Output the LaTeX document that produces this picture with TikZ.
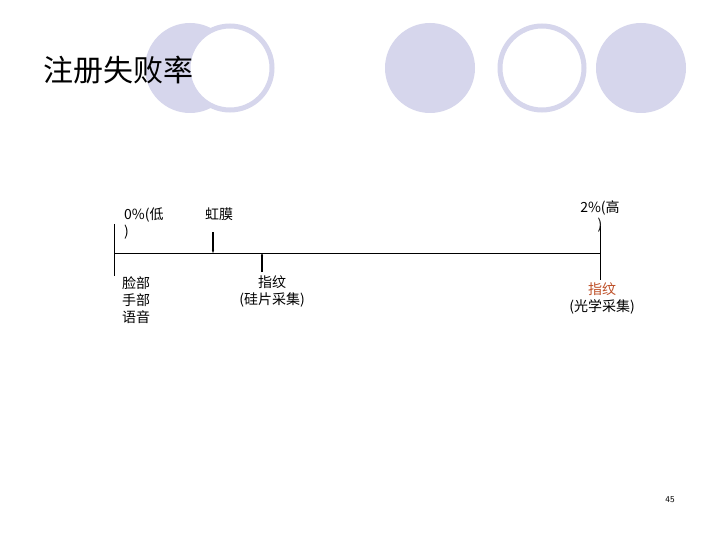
\documentclass[tikz,border=0pt]{standalone}
\usepackage{fontspec}
\usetikzlibrary{arrows.meta}
\newfontfamily\cjk{Noto Sans CJK SC}
\setmainfont{Liberation Serif}
\definecolor{lav}{RGB}{214,214,236}
\definecolor{rust}{RGB}{190,80,40}
\tikzset{lbl/.style={font=\cjk\fontsize{14}{17}\selectfont,inner sep=0pt,align=left},
ring/.style={draw=lav,line width=5pt,fill=white},
disk/.style={fill=lav}}
\begin{document}
\begin{tikzpicture}[x=1pt,y=-1pt]
\useasboundingbox (0,0) rectangle (720,540);
\fill[white] (0,0) rectangle (720,540);
\fill[disk] (190,68) circle (45);
\draw[ring] (230,68) circle (42);
\fill[disk] (430,68) circle (45);
\draw[ring] (542,68) circle (42);
\fill[disk] (641,68) circle (45);
\node[font=\cjk\fontsize{30}{34}\selectfont,anchor=west,inner sep=0pt] (t) at (43,70) {注册失败率};
\coordinate (L) at (114,253); \coordinate (R) at (600,253);
\coordinate (Lt) at (114,224); \coordinate (Lb) at (114,276);
\coordinate (Rt) at (600,226); \coordinate (Rb) at (600,280);
\coordinate (it) at (213,232); \coordinate (ib) at (213,253);
\coordinate (ft) at (262,253); \coordinate (fb) at (262,272);
\draw[line width=0.8pt] (L) -- (R) (Lt) -- (Lb) (Rt) -- (Rb);
\draw[line width=1.5pt,-{Stealth[length=3pt]}] (it) -- (ib);
\draw[line width=1.5pt,-{Stealth[length=3pt]}] (fb) -- (ft);
\node[lbl,anchor=north west] (a) at (124,208) {0\%({\cjk 低}\\)};
\node[lbl,anchor=north west] (b) at (205,208) {虹膜};
\node[lbl,anchor=north west] (c) at (122,276) {脸部\\手部\\语音};
\node[lbl,align=center,anchor=north] (d) at (272,276) {指纹\\(硅片采集)};
\node[lbl,align=center,anchor=north] (e) at (600,200) {2\%({\cjk 高}\\)};
\node[lbl,align=center,anchor=north] (f) at (602,283) {\textcolor{rust}{指纹}\\(光学采集)};
\node[font=\fontsize{9}{10}\selectfont\sffamily] (n) at (670,500) {45};
\end{tikzpicture}
\end{document}
